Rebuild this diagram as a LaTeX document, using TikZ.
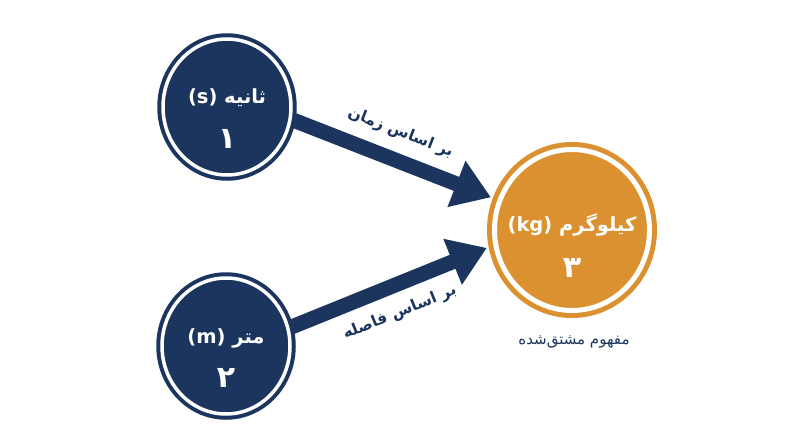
\documentclass[tikz,border=0pt]{standalone}
\usepackage{fontspec}
\usepackage{tikz}
\usetikzlibrary{shapes.geometric, arrows.meta, backgrounds, positioning}
\newfontfamily\arabicfont[Script=Arabic]{DejaVu Sans}
\TeXXeTstate=1
\definecolor{navy}{RGB}{28,53,94}
\definecolor{amber}{RGB}{219,145,47}
\tikzstyle{unitcirc}=[shape=ellipse, draw=navy, fill=navy, double=white, double distance=3.5pt, line width=4pt, minimum width=128pt, minimum height=136pt, inner sep=0pt]
\tikzstyle{derivedcirc}=[shape=ellipse, draw=amber, fill=amber, double=white, double distance=5pt, line width=5pt, minimum width=155pt, minimum height=161pt, inner sep=0pt]
\tikzstyle{unitname}=[text=white, inner sep=0pt, font=\arabicfont\bfseries\fontsize{19.5}{24}\selectfont]
\tikzstyle{unitnum}=[text=white, inner sep=0pt, font=\arabicfont\bfseries\fontsize{30}{34}\selectfont]
\tikzstyle{basislbl}=[text=navy, inner sep=0pt, sloped, font=\arabicfont\bfseries\fontsize{15.5}{18}\selectfont]
\tikzstyle{captxt}=[text=navy, inner sep=0pt, font=\arabicfont\fontsize{15}{17}\selectfont]
\tikzstyle{bigarrow}=[draw=navy, line width=15pt, shorten >=7pt, -{Triangle[length=37pt, width=47pt]}]

\begin{document}
\begin{tikzpicture}[x=1pt, y=-1pt]
\useasboundingbox (0,0) rectangle (800,447);
% the two base units
\node[unitcirc] (sec) at (227,107) {};
\node[unitcirc] (met) at (226,346) {};
% the derived unit
\node[derivedcirc] (kg) at (572,230) {};
% the texts inside the circles
\node[unitname] (secname) at (227,98) {\beginR ثانیه \beginL(s)\endL\endR};
\node[unitnum] (secnum) at (227,139) {۱};
\node[unitname] (metname) at (226,338) {\beginR متر \beginL(m)\endL\endR};
\node[unitnum] (metnum) at (226,378) {۲};
\node[unitname] (kgname) at (572,225) {\beginR کیلوگرم \beginL(kg)\endL\endR};
\node[unitnum] (kgnum) at (572,268) {۳};
% the caption
\node[captxt] (kgcap) at (574,342) {\beginR مفهوم مشتق‌شده\endR};
% the arrows
\begin{scope}[on background layer]
\draw[bigarrow] (sec.-11) -- node[basislbl, above=12pt, pos=0.48] (timelbl) {\beginR بر اساس زمان\endR} (kg.158);
\draw[bigarrow] (met.16) -- node[basislbl, below=12pt, pos=0.49] (distlbl) {\beginR بر اساس فاصله\endR} (kg.191);
\end{scope}
\end{tikzpicture}
\end{document}
